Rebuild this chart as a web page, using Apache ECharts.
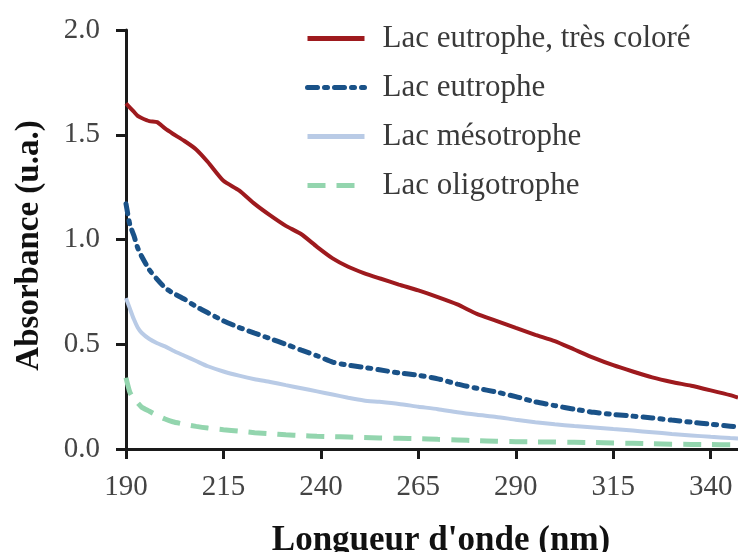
<!DOCTYPE html>
<html>
<head>
<meta charset="utf-8">
<script src="https://cdn.jsdelivr.net/npm/echarts@6/dist/echarts.min.js"></script>
<style>
html,body{margin:0;padding:0;background:#fff;}
#c{width:738px;height:552px;}
</style>
</head>
<body>
<div id="c"></div>
<script>
var wavelengths = [190,191,192,193,194,196,198,200,202,205,208,211,215,219,223,227,231,235,239,243,247,251,255,260,265,270,275,280,285,290,295,300,305,310,315,320,325,330,335,340,345,347];
var eutropheTresColore = [1.65,1.63,1.61,1.59,1.58,1.565,1.56,1.53,1.505,1.47,1.43,1.37,1.28,1.235,1.17,1.115,1.065,1.025,0.965,0.91,0.87,0.84,0.815,0.785,0.757,0.725,0.69,0.645,0.612,0.578,0.545,0.515,0.475,0.435,0.40,0.37,0.342,0.32,0.302,0.28,0.257,0.245];
var eutrophe = [1.17,1.07,1.02,0.96,0.92,0.855,0.81,0.77,0.745,0.715,0.68,0.65,0.612,0.58,0.553,0.527,0.50,0.472,0.445,0.415,0.40,0.39,0.378,0.363,0.352,0.335,0.31,0.29,0.272,0.25,0.225,0.207,0.19,0.175,0.165,0.157,0.148,0.138,0.128,0.118,0.109,0.105];
var mesotrophe = [0.72,0.67,0.62,0.58,0.555,0.525,0.505,0.49,0.47,0.445,0.42,0.395,0.37,0.35,0.333,0.32,0.305,0.29,0.275,0.26,0.245,0.232,0.225,0.215,0.202,0.19,0.175,0.163,0.153,0.14,0.128,0.118,0.11,0.103,0.095,0.088,0.08,0.072,0.065,0.058,0.052,0.05];
var oligotrophe = [0.34,0.27,0.24,0.22,0.20,0.18,0.16,0.143,0.13,0.118,0.108,0.1,0.092,0.085,0.078,0.073,0.068,0.064,0.061,0.059,0.057,0.055,0.053,0.051,0.049,0.046,0.043,0.04,0.037,0.035,0.034,0.033,0.032,0.031,0.029,0.027,0.025,0.023,0.022,0.021,0.02,0.02];
var seriesNames = ['Lac eutrophe, très coloré','Lac eutrophe','Lac mésotrophe','Lac oligotrophe'];

function pairs(vals){ return wavelengths.map(function(w,i){ return [w, vals[i]]; }); }

var chart = echarts.init(document.getElementById('c'), null, {renderer:'canvas'});
var serif = '"Liberation Serif", "DejaVu Serif", serif';
var option = {
  animation: false,
  backgroundColor: '#fff',
  grid: {left:126, right:0, top:30, bottom:103, containLabel:false, outerBoundsMode:'none'},
  legend: {
    orient:'vertical', left:300, top:18, itemWidth:57, itemHeight:16, itemGap:18,
    itemStyle:{opacity:0, color:'rgba(0,0,0,0)', borderWidth:0},
    lineStyle:{width:5},
    textStyle:{fontFamily:serif, fontSize:31, color:'#3a3a3a', padding:[0,0,0,13]},
    data: seriesNames
  },
  xAxis: {
    type:'value', min:190, max:347, interval:25,
    name:"Longueur d'onde (nm)", nameLocation:'middle', nameGap:74,
    nameTextStyle:{fontFamily:serif, fontSize:35, fontWeight:'bold', color:'#111', padding:[0,0,0,18]},
    axisLine:{show:true, onZero:false, lineStyle:{color:'#1a1a1a', width:3}},
    axisTick:{show:true, length:10, lineStyle:{color:'#1a1a1a', width:3}},
    axisLabel:{fontFamily:serif, fontSize:29, color:'#444', margin:24, showMaxLabel:false},
    splitLine:{show:false}
  },
  yAxis: {
    type:'value', min:0, max:2, interval:0.5,
    name:'Absorbance (u.a.)', nameLocation:'middle', nameGap:80,
    nameTextStyle:{fontFamily:serif, fontSize:33, fontWeight:'bold', color:'#111', padding:[0,12,0,0]},
    axisLine:{show:true, lineStyle:{color:'#1a1a1a', width:3}},
    axisTick:{show:true, length:10, lineStyle:{color:'#1a1a1a', width:3}},
    axisLabel:{fontFamily:serif, fontSize:29, color:'#444', margin:26, formatter:function(v){return v.toFixed(1);}},
    splitLine:{show:false}
  },
  series: [
    {name:seriesNames[0], type:'line', data:pairs(eutropheTresColore), showSymbol:false, symbol:'none', smooth:0.2,
     lineStyle:{color:'#9e1a1e', width:4}, itemStyle:{color:'#9e1a1e'}},
    {name:seriesNames[1], type:'line', data:pairs(eutrophe), showSymbol:false, symbol:'none', smooth:0.2,
     lineStyle:{color:'#1a5288', width:5, type:[10,7,3,7], cap:'round'}, itemStyle:{color:'#1a5288'}},
    {name:seriesNames[2], type:'line', data:pairs(mesotrophe), showSymbol:false, symbol:'none', smooth:0.2,
     lineStyle:{color:'#b9cbe6', width:4}, itemStyle:{color:'#b9cbe6'}},
    {name:seriesNames[3], type:'line', data:pairs(oligotrophe), showSymbol:false, symbol:'none', smooth:0.2,
     lineStyle:{color:'#93d5ae', width:5, type:[18,11]}, itemStyle:{color:'#93d5ae'}}
  ]
};
chart.setOption(option);
</script>
</body>
</html>
